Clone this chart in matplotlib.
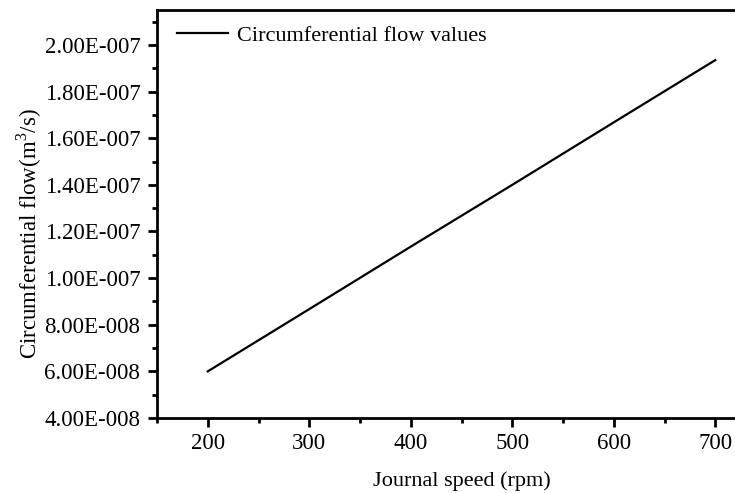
import matplotlib
matplotlib.use("Agg")
import matplotlib.pyplot as plt
from matplotlib.ticker import FuncFormatter, MultipleLocator

speed = [200, 300, 400, 500, 600, 700]
flow = [6.00e-8, 8.67e-8, 1.135e-7, 1.40e-7, 1.668e-7, 1.935e-7]
label = "Circumferential flow values"


def sci_label(v, pos):
	mant, exp = f"{v:.2E}".split("E")
	sign = "-" if int(exp) < 0 else "+"
	return f"{mant}E{sign}{abs(int(exp)):03d}"


plt.rcParams["font.family"] = ["Liberation Serif", "DejaVu Serif"]
plt.rcParams["mathtext.fontset"] = "custom"
plt.rcParams["mathtext.rm"] = "Liberation Serif"

fig = plt.figure(figsize=(7.35, 4.93), dpi=100)
ax = fig.add_axes([157 / 735, 1 - 418 / 493, (766 - 157) / 735, (418 - 10) / 493])

ax.plot(speed, flow, color="black", lw=1.6, label=label)

ax.set_xlim(150, 750)
ax.set_ylim(4.0e-8, 2.15e-7)
ax.xaxis.set_major_locator(MultipleLocator(100))
ax.xaxis.set_minor_locator(MultipleLocator(50))
ax.yaxis.set_major_locator(MultipleLocator(2e-8))
ax.yaxis.set_minor_locator(MultipleLocator(1e-8))
ax.yaxis.set_major_formatter(FuncFormatter(sci_label))

for side in ["left", "bottom", "top", "right"]:
	ax.spines[side].set_linewidth(2.0)
ax.tick_params(which="major", direction="out", length=6.5, width=2.0, labelsize=16.5)
ax.tick_params(axis="y", which="major", pad=5.5)
ax.tick_params(axis="x", which="major", pad=4.5)
ax.tick_params(which="minor", direction="out", length=3.5, width=2.0)
ax.tick_params(top=False, right=False, which="both")

ax.set_xlabel("Journal speed (rpm)", fontsize=16, labelpad=12)
ax.set_ylabel("Circumferential flow(m$^3$/s)", fontsize=16.5)
ax.yaxis.set_label_coords(-0.1856, 0.451)

ax.legend(loc="upper left", frameon=False, fontsize=16, handlelength=2.3,
	handletextpad=0.4, borderaxespad=0.3, bbox_to_anchor=(0.007, 1.0))

fig.savefig("out.png", dpi=100)
